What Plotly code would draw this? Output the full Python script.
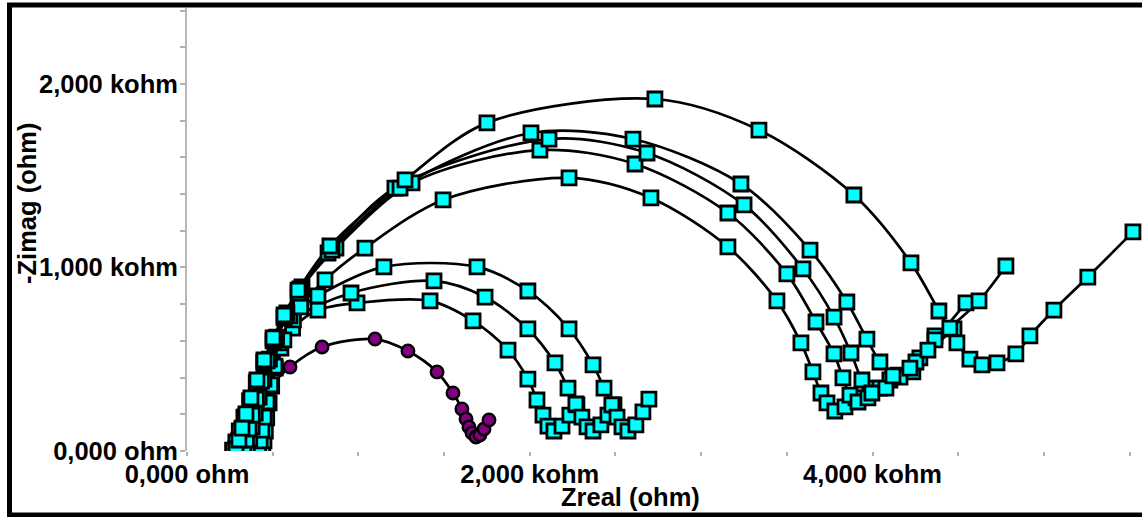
import plotly.graph_objects as go

# ---- data (ohm) ----
P_x = [369, 388, 413, 444, 485, 601, 788, 1097, 1289, 1459, 1552, 1604, 1628, 1645, 1663, 1686, 1709, 1733, 1762]
P_y = [16, 71, 147, 240, 343, 458, 567, 610, 545, 431, 316, 229, 174, 131, 98, 76, 87, 120, 169]

M3_x = [442, 449, 457, 465, 479, 494, 515, 548, 616, 764, 992, 1418, 1669, 1873, 1989, 2042, 2077, 2106, 2141, 2188, 2234, 2275]
M3_y = [11, 55, 109, 180, 262, 354, 452, 561, 670, 768, 807, 818, 709, 550, 392, 278, 196, 136, 109, 136, 196, 251]

M2_x = [392, 404, 415, 428, 444, 466, 499, 541, 621, 957, 1441, 1739, 1989, 2147, 2223, 2269, 2304, 2334, 2369, 2415, 2456, 2491]
M2_y = [11, 55, 114, 185, 273, 365, 474, 589, 714, 861, 927, 839, 665, 480, 343, 256, 185, 131, 109, 142, 196, 251]

M1_x = [286, 303, 321, 344, 373, 408, 449, 508, 601, 764, 1149, 1692, 1989, 2229, 2369, 2433, 2479, 2509, 2538, 2573, 2619, 2660, 2695]
M1_y = [11, 55, 114, 191, 278, 376, 485, 605, 736, 845, 1003, 1003, 872, 665, 469, 343, 251, 185, 131, 109, 142, 213, 283]

L1_x = [286, 303, 321, 344, 373, 408, 449, 502, 566, 648, 834, 1272, 1750, 2730, 3337, 3891, 4224, 4387, 4492, 4568, 4638, 4726, 4836, 4918, 5058, 5256, 5519]
L1_y = [11, 60, 125, 202, 289, 387, 496, 616, 741, 877, 1117, 1477, 1788, 1918, 1749, 1395, 1025, 763, 589, 501, 469, 480, 529, 627, 768, 948, 1194]

L2_x = [332, 347, 362, 381, 405, 434, 468, 514, 572, 659, 846, 1243, 2007, 2602, 3232, 3635, 3850, 3967, 4043, 4119, 4218, 4323, 4451, 4621, 4778]
L2_y = [11, 60, 120, 196, 283, 381, 491, 610, 736, 883, 1095, 1433, 1733, 1700, 1455, 1095, 812, 610, 485, 409, 452, 550, 670, 818, 1008]

L3_x = [266, 285, 305, 332, 365, 404, 449, 502, 566, 648, 823, 1213, 2112, 2684, 3250, 3594, 3775, 3874, 3938, 3996, 4078, 4160, 4253, 4364, 4545]
L3_y = [5, 49, 109, 185, 273, 371, 480, 600, 725, 861, 1079, 1433, 1700, 1624, 1341, 992, 730, 534, 387, 316, 343, 403, 485, 605, 807]

L4_x = [352, 366, 380, 398, 421, 449, 481, 523, 583, 671, 869, 1313, 2059, 2614, 3156, 3500, 3670, 3775, 3827, 3868, 3915, 3973, 4043, 4148, 4276, 4475]
L4_y = [16, 65, 131, 207, 294, 392, 501, 621, 752, 894, 1106, 1461, 1640, 1564, 1297, 965, 703, 529, 398, 305, 267, 289, 343, 414, 507, 665]

L5_x = [418, 427, 437, 450, 467, 488, 513, 565, 663, 805, 1038, 1494, 2229, 2707, 3156, 3442, 3582, 3652, 3699, 3734, 3780, 3839, 3903, 3985, 4101, 4235, 4364]
L5_y = [11, 55, 114, 185, 267, 360, 463, 605, 785, 932, 1106, 1368, 1488, 1379, 1112, 818, 589, 431, 316, 262, 218, 240, 289, 343, 387, 431, 627]

cyan_series = [(M3_x, M3_y), (M2_x, M2_y), (M1_x, M1_y),
               (L5_x, L5_y), (L4_x, L4_y), (L3_x, L3_y), (L2_x, L2_y), (L1_x, L1_y)]

x_tickvals = [0, 500, 1000, 1500, 2000, 2500, 3000, 3500, 4000, 4500, 5000, 5500]
x_ticktext = ["0,000 ohm", "", "", "", "2,000 kohm", "", "", "", "4,000 kohm", "", "", ""]
y_tickvals = [0, 200, 400, 600, 800, 1000, 1200, 1400, 1600, 1800, 2000, 2200, 2400]
y_ticktext = ["0,000 ohm", "", "", "", "", "1,000 kohm", "", "", "", "", "2,000 kohm", "", ""]

fig = go.Figure()

LINE = dict(color="black", width=2.7, shape="spline", smoothing=0.9)

# purple series (drawn first)
fig.add_trace(go.Scatter(x=P_x, y=P_y, mode="lines", line=LINE, showlegend=False, hoverinfo="skip"))
fig.add_trace(go.Scatter(x=P_x, y=P_y, mode="markers", showlegend=False,
                         marker=dict(symbol="circle", size=12.5, color="#800080",
                                     line=dict(color="black", width=2.4))))

for sx, sy in cyan_series:
    fig.add_trace(go.Scatter(x=sx, y=sy, mode="lines", line=LINE, showlegend=False, hoverinfo="skip"))
for sx, sy in cyan_series:
    fig.add_trace(go.Scatter(x=sx, y=sy, mode="markers", showlegend=False,
                             marker=dict(symbol="square", size=14, color="#00FFFF",
                                         line=dict(color="black", width=2.8))))

FONT = dict(family="Liberation Sans, Arial, sans-serif", size=25.5, color="black", weight="bold")

fig.update_layout(
    width=1142, height=517,
    margin=dict(l=187, r=0, t=8, b=66),
    paper_bgcolor="white", plot_bgcolor="white",
    showlegend=False,
    xaxis=dict(range=[0, 5572], tickvals=x_tickvals, ticktext=x_ticktext,
               ticks="outside", ticklen=4, tickwidth=1.5, tickcolor="#b0b0b0",
               ticklabelstandoff=-4,
               showline=False, showgrid=False, zeroline=False, tickfont=FONT),
    yaxis=dict(range=[0, 2414], tickvals=y_tickvals, ticktext=y_ticktext,
               ticks="outside", ticklen=5, tickwidth=1.5, tickcolor="#b0b0b0",
               ticklabelstandoff=-3,
               showline=True, linecolor="#b8b8b8", linewidth=2,
               showgrid=False, zeroline=False, tickfont=FONT),
    annotations=[
        dict(text="Zreal (ohm)", xref="paper", yref="paper", x=0.4639, y=-0.1038,
             xanchor="center", yanchor="middle", showarrow=False, font=FONT),
        dict(text="-Zimag (ohm)", xref="paper", yref="paper", x=-0.1675, y=0.5576,
             xanchor="center", yanchor="middle", textangle=-90, showarrow=False, font=FONT),
    ],
    shapes=[
        dict(type="rect", xref="paper", yref="paper", x0=-0.18586, x1=1.02,
             y0=-0.14447, y1=1.00677, line=dict(color="black", width=5), layer="above"),
    ],
)

fig.write_html("out.html")
